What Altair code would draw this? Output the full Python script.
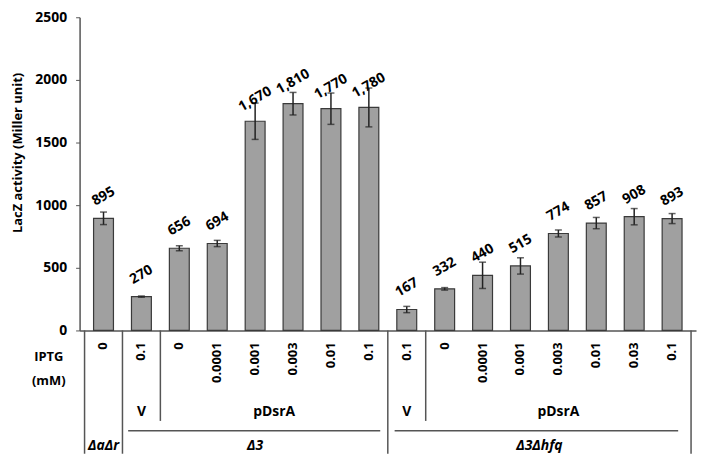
import altair as alt
import pandas as pd

# ---- data ----
values = [895, 270, 656, 694, 1670, 1810, 1770, 1780, 167, 332, 440, 515, 774, 857, 908, 893]
errors = [50, 5, 20, 25, 145, 90, 125, 155, 25, 10, 105, 65, 28, 45, 65, 40]
iptg = ["0", "0.1", "0", "0.0001", "0.001", "0.003", "0.01", "0.1",
        "0.1", "0", "0.0001", "0.001", "0.003", "0.01", "0.03", "0.1"]

plasmid_labels = ["V", "pDsrA", "V", "pDsrA"]
plasmid_pos = [1.5, 5.0, 8.5, 12.5]
strain_labels = ["ΔaΔr", "Δ3", "Δ3Δhfq"]
strain_pos = [0.5, 4.5, 12.0]
sep_long = [0, 1, 8, 16]
sep_short = [2, 9]
hline_start = [1.15, 8.18]
hline_end = [7.8, 15.66]

n = len(values)
df = pd.DataFrame({
    "pos": [i + 0.5 for i in range(n)],
    "value": values,
    "err": errors,
    "iptg": iptg,
})
df["lo"] = df["value"] - df["err"]
df["hi"] = df["value"] + df["err"]

W, H = 620, 315
FONT = "Open Sans"
xs = alt.Scale(domain=[0, n], nice=False, zero=False)
ys = alt.Scale(domain=[0, 2500], nice=False)
X = alt.X("pos:Q", scale=xs,
          axis=alt.Axis(labels=False, ticks=False, grid=False, title=None,
                        domainColor="#555555", domainWidth=1.5))

base = alt.Chart(df)
bars = base.mark_bar(width=20, fill="#a0a0a0", stroke="#3a3a3a", strokeWidth=1.2).encode(
    x=X,
    y=alt.Y("value:Q", scale=ys, title="LacZ activity (Miller unit)",
            axis=alt.Axis(values=[0, 500, 1000, 1500, 2000, 2500], grid=False, format="d",
                          labelFont=FONT, labelFontSize=14, labelFontWeight="bold",
                          labelColor="black", labelPadding=9, tickSize=4,
                          tickColor="#555555", domainColor="#555555", domainWidth=1.5,
                          titleFont=FONT, titleFontSize=13, titleFontWeight="bold",
                          titleColor="black", titleAngle=270, titleAlign="center",
                          titleBaseline="middle", titleX=-62, titleY=136)),
)
err_rule = base.mark_rule(color="#222222", strokeWidth=1.5).encode(
    x="pos:Q", y="lo:Q", y2="hi:Q")
cap_lo = base.mark_tick(orient="horizontal", size=7, thickness=1.5, color="#222222").encode(
    x="pos:Q", y="lo:Q")
cap_hi = base.mark_tick(orient="horizontal", size=7, thickness=1.5, color="#222222").encode(
    x="pos:Q", y="hi:Q")
val_text = base.mark_text(angle=330, font=FONT, fontSize=14, fontWeight="bold",
                          color="black", align="center", baseline="middle",
                          yOffset=-22).encode(
    x="pos:Q", y="value:Q", text=alt.Text("value:Q", format=","))

iptg_text = base.mark_text(angle=270, font=FONT, fontSize=13, fontWeight="bold",
                           color="black", align="right", baseline="middle").encode(
    x="pos:Q", y=alt.value(H + 12), text="iptg:N")

line_col = "#555555"
sepL = alt.Chart(pd.DataFrame({"x": sep_long})).mark_rule(color=line_col, strokeWidth=1.5).encode(
    x="x:Q", y=alt.value(H), y2=alt.value(H + 124))
sepS = alt.Chart(pd.DataFrame({"x": sep_short})).mark_rule(color=line_col, strokeWidth=1.5).encode(
    x="x:Q", y=alt.value(H), y2=alt.value(H + 91))
hl = alt.Chart(pd.DataFrame({"a": hline_start, "b": hline_end})).mark_rule(
    color=line_col, strokeWidth=1.5).encode(x="a:Q", x2="b:Q", y=alt.value(H + 101))

plas = alt.Chart(pd.DataFrame({"t": plasmid_labels, "p": plasmid_pos})).mark_text(
    font=FONT, fontSize=14, fontWeight="bold", color="black", baseline="middle").encode(
    x="p:Q", y=alt.value(H + 82), text="t:N")
strain = alt.Chart(pd.DataFrame({"t": strain_labels, "p": strain_pos})).mark_text(
    font=FONT, fontSize=14, fontWeight="bold", fontStyle="italic", color="black",
    baseline="middle").encode(
    x="p:Q", y=alt.value(H + 116), text="t:N")

iptg_title = alt.Chart(pd.DataFrame({"t": ["IPTG"]})).mark_text(
    font=FONT, fontSize=13, fontWeight="bold", color="black", baseline="middle").encode(
    x=alt.value(-31), y=alt.value(H + 27), text="t:N")
mm_title = alt.Chart(pd.DataFrame({"t": ["(mM)"]})).mark_text(
    font=FONT, fontSize=13, fontWeight="bold", color="black", baseline="middle").encode(
    x=alt.value(-31), y=alt.value(H + 51), text="t:N")

chart = alt.layer(
    bars, err_rule, cap_lo, cap_hi, val_text, iptg_text,
    sepL, sepS, hl, plas, strain, iptg_title, mm_title
).properties(
    width=W, height=H,
    autosize=alt.AutoSizeParams(type="none"),
    padding={"left": 72, "top": 8, "right": 4, "bottom": 130},
    background="white",
).configure_view(stroke=None)

chart.save("out.html", embed_options={"renderer": "svg", "actions": False})
